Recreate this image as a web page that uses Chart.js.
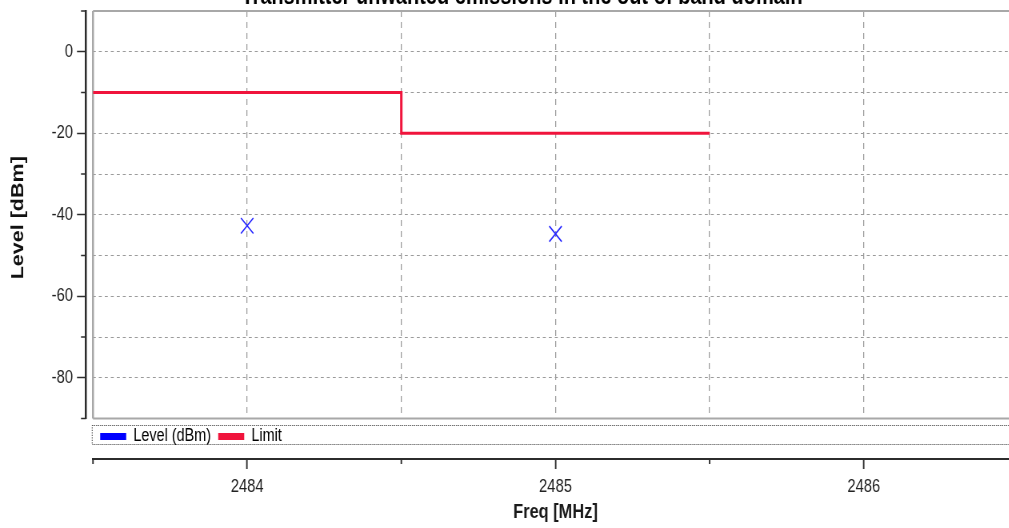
<!DOCTYPE html>
<html>
<head>
<meta charset="utf-8">
<script src="https://cdn.jsdelivr.net/npm/chart.js@4/dist/chart.umd.min.js"></script>
<style>
  html, body { margin: 0; padding: 0; background: #fff; overflow: hidden; width: 1009px; height: 528px; }
  /* the chart is laid out 25% wider and condensed horizontally, giving narrow lettering */
  #wrap { position: absolute; left: 0; top: -17px; width: 1305px; height: 545px;
          transform: scaleX(0.8); transform-origin: 0 0; }
</style>
</head>
<body>
<div id="wrap"><canvas id="chart"></canvas></div>
<script>
// Measured emission levels (dBm) at each test frequency (MHz)
const levelFreq = [2484, 2485];
const levelDbm = [-42.7, -44.7];

// Out-of-band limit mask: each level holds up to the next frequency
const limitFreq = [2483.5, 2484.5, 2485.5];
const limitDbm = [-10, -20, -20];

// Labelled ticks on each axis
const freqTicks = [2484, 2485, 2486];
const levelTicks = [0, -20, -40, -60, -80];

const chartTitle = 'Transmitter unwanted emissions in the out of band domain';
const seriesNames = ['Level (dBm)', 'Limit'];

const SANS = "'Liberation Sans', Arial, sans-serif";
const CLEAR = 'rgba(0,0,0,0)';
const GRID = '#9a9a9a';
const AXIS = '#2c2c2c';
const BLUE = '#0000ff';
const RED = '#f0143c';
const SX = 1.25; // horizontal sizes are given in condensed units

// Plot frame, short minor ticks and the dotted box around the legend
const decor = {
  id: 'decor',
  beforeDatasetsDraw(chart) {
    const { ctx, chartArea: a } = chart;
    ctx.save();
    ctx.strokeStyle = '#a8a8a8';
    ctx.lineWidth = 2;
    ctx.beginPath();
    ctx.moveTo(a.right, a.top);
    ctx.lineTo(a.left, a.top);
    ctx.moveTo(a.left, a.bottom);
    ctx.lineTo(a.right, a.bottom);
    ctx.stroke();
    ctx.lineWidth = 2 * SX;
    ctx.beginPath();
    ctx.moveTo(a.left, a.top);
    ctx.lineTo(a.left, a.bottom);
    ctx.stroke();
    ctx.restore();
  },
  afterDraw(chart) {
    const { ctx } = chart;
    const xs = chart.scales.x;
    const ya = chart.scales.yAxis;
    ctx.save();
    ctx.strokeStyle = AXIS;
    ctx.lineWidth = 1.5 * SX;
    ctx.beginPath();
    xs.ticks.forEach(t => {
      if (freqTicks.includes(t.value)) return;
      const px = xs.getPixelForValue(t.value);
      ctx.moveTo(px, xs.top);
      ctx.lineTo(px, xs.top + 5);
    });
    ctx.stroke();
    ctx.lineWidth = 1.5;
    ctx.beginPath();
    ya.ticks.forEach(t => {
      if (levelTicks.includes(t.value)) return;
      const py = ya.getPixelForValue(t.value);
      ctx.moveTo(ya.right, py);
      ctx.lineTo(ya.right - 5 * SX, py);
    });
    ctx.stroke();

    const lg = chart.legend;
    ctx.setLineDash([1.25, 1.25]);
    ctx.strokeStyle = '#404040';
    ctx.lineWidth = 1;
    ctx.strokeRect(lg.left - 1, lg.top + 7, lg.width + 40, 19);
    ctx.restore();
  }
};

new Chart(document.getElementById('chart'), {
  type: 'scatter',
  data: {
    datasets: [
      {
        label: seriesNames[0],
        data: levelFreq.map((f, i) => ({ x: f, y: levelDbm[i] })),
        xAxisID: 'x',
        yAxisID: 'y',
        showLine: false,
        pointStyle: 'crossRot',
        pointRadius: 11,
        pointHoverRadius: 11,
        pointBorderWidth: 1.6,
        borderColor: '#2a2aff',
        backgroundColor: BLUE
      },
      {
        label: seriesNames[1],
        data: limitFreq.map((f, i) => ({ x: f, y: limitDbm[i] })),
        xAxisID: 'x',
        yAxisID: 'y',
        showLine: true,
        stepped: 'before',
        borderColor: RED,
        backgroundColor: RED,
        borderWidth: 3,
        pointRadius: 0,
        pointHoverRadius: 0
      }
    ]
  },
  options: {
    responsive: true,
    maintainAspectRatio: false,
    animation: false,
    events: [],
    layout: { padding: 0, autoPadding: false },
    plugins: {
      title: {
        display: true,
        text: chartTitle,
        color: '#000',
        font: { family: SANS, size: 25, weight: 'bold', lineHeight: 1.12 },
        padding: { top: 0, bottom: 0 }
      },
      legend: {
        position: 'bottom',
        align: 'start',
        fullSize: false,
        weight: 1,
        labels: {
          boxWidth: 26 * SX,
          boxHeight: 7,
          padding: 9,
          color: '#1a1a1a',
          font: { family: SANS, size: 18 },
          generateLabels: chart => chart.data.datasets.map((ds, i) => ({
            text: ds.label,
            fillStyle: i === 0 ? BLUE : RED,
            strokeStyle: i === 0 ? BLUE : RED,
            lineWidth: 0,
            hidden: false,
            datasetIndex: i
          }))
        }
      },
      tooltip: { enabled: false }
    },
    scales: {
      x: {
        type: 'linear',
        position: 'bottom',
        weight: 3,
        min: 2483.5,
        max: 2486.5,
        afterFit: s => { s.height = 69; },
        ticks: {
          stepSize: 0.5,
          autoSkip: false,
          maxRotation: 0,
          padding: 7,
          color: '#222',
          font: { family: SANS, size: 18.5 },
          callback: v => freqTicks.includes(v) ? String(v) : ''
        },
        grid: {
          lineWidth: 1.25,
          color: c => (c.tick && (c.tick.value === 2483.5 || c.tick.value === 2486.5)) ? CLEAR : GRID,
          tickLength: 10,
          tickWidth: 1.5 * SX,
          tickColor: c => (c.tick && freqTicks.includes(c.tick.value)) ? AXIS : CLEAR
        },
        border: { display: true, color: AXIS, width: 2, dash: [6, 5] },
        title: {
          display: true,
          text: 'Freq [MHz]',
          color: '#1a1a1a',
          font: { family: SANS, size: 20.5, weight: 'bold' },
          padding: { top: 0, bottom: 3.5 }
        }
      },
      xs: {
        type: 'linear',
        position: 'bottom',
        weight: 2,
        afterFit: s => { s.height = 3.5; },
        ticks: { display: false },
        grid: { display: false },
        border: { display: false }
      },
      yr: {
        type: 'linear',
        position: 'right',
        afterFit: s => { s.width = 26 * SX; },
        ticks: { display: false },
        grid: { display: false },
        border: { display: false }
      },
      y: {
        type: 'linear',
        position: 'left',
        weight: 1,
        min: -90,
        max: 10,
        afterFit: s => { s.width = 7 * SX; },
        ticks: { stepSize: 10, display: false },
        grid: {
          drawTicks: false,
          lineWidth: 1,
          color: c => (c.tick && (c.tick.value === -90 || c.tick.value === 10)) ? CLEAR : GRID
        },
        border: { display: false, dash: [3 * SX, 3 * SX] }
      },
      yAxis: {
        type: 'linear',
        position: 'left',
        weight: 2,
        min: -90,
        max: 10,
        afterFit: s => { s.width = 86 * SX; },
        ticks: {
          stepSize: 10,
          autoSkip: false,
          padding: 4 * SX,
          color: '#222',
          font: { family: SANS, size: 18.5 },
          callback: v => levelTicks.includes(v) ? String(v) : ''
        },
        grid: {
          drawOnChartArea: false,
          tickLength: 9 * SX,
          tickWidth: 1.5,
          tickColor: c => (c.tick && levelTicks.includes(c.tick.value)) ? AXIS : CLEAR
        },
        border: { display: true, color: AXIS, width: 2 * SX },
        title: {
          display: true,
          text: 'Level [dBm] ',
          color: '#111',
          font: { family: SANS, size: 21.5, weight: 'bold' },
          padding: { top: 10.2, bottom: 0 }
        }
      }
    }
  },
  plugins: [decor]
});
</script>
</body>
</html>
